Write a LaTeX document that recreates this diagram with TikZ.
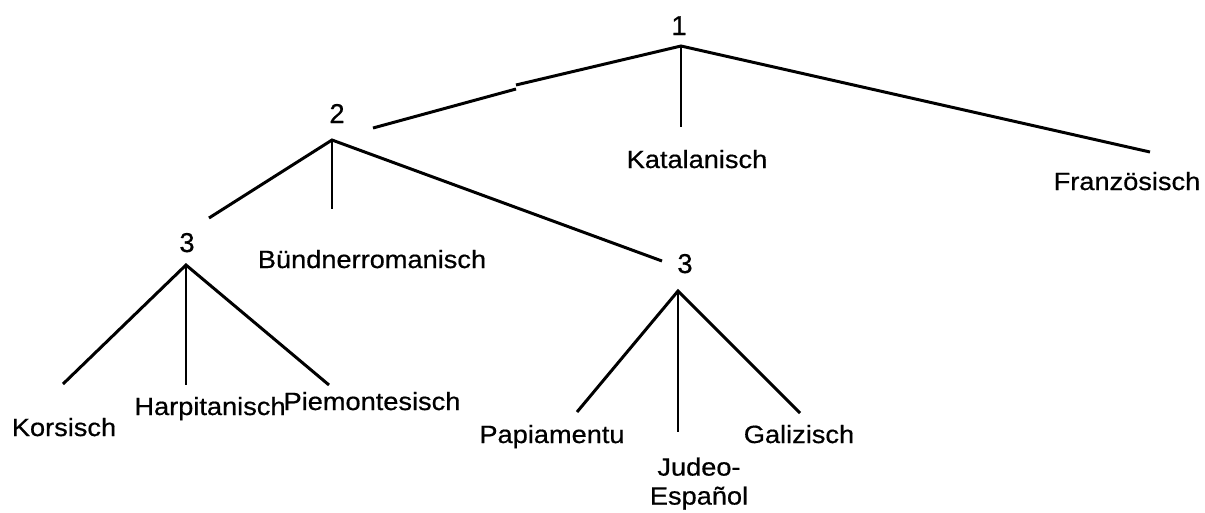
\documentclass[tikz,border=0pt]{standalone}
\usepackage{fontspec}
\setmainfont[FakeStretch=1.09,FakeBold=0.6]{Liberation Sans}
\newfontfamily\numfont[FakeBold=0.6]{Liberation Sans}
\tikzstyle{lang}=[font=\fontsize{14.2}{16.5}\selectfont,inner sep=0pt,align=center,anchor=base]
\tikzstyle{level}=[font=\numfont\fontsize{15.5}{17}\selectfont,inner sep=0pt,anchor=base]

\begin{document}
\begin{tikzpicture}[x=0.02cm,y=-0.02cm,line width=1.7pt]
    \useasboundingbox (0,0) rectangle (1205,512);
    % level numbers and branching points
    \node[level] (L1) at (679,35) {1};
    \node[level] (L2) at (337,123) {2};
    \node[level] (L3a) at (187,252) {3};
    \node[level] (L3b) at (685,273) {3};
    \coordinate (P1) at (681,46);
    \coordinate (P2) at (332,140);
    \coordinate (P3a) at (186,265);
    \coordinate (P3b) at (678,291);
    % line ends
    \coordinate (E2) at (373,128);
    \coordinate (Ja) at (516,89);
    \coordinate (Jb) at (516,85);
    \coordinate (EK) at (681,127);
    \coordinate (EF) at (1150,152);
    \coordinate (E3a) at (209,218);
    \coordinate (EB) at (332,209);
    \coordinate (E3b) at (662,261);
    \coordinate (EKo) at (63,384);
    \coordinate (EH) at (186,385);
    \coordinate (EP) at (329,385);
    \coordinate (EPa) at (577,412);
    \coordinate (EJ) at (678,432);
    \coordinate (EG) at (800,413);
    % languages
    \node[lang] (Kat) at (697,168) {Katalanisch};
    \node[lang] (Fra) at (1127,190) {Französisch};
    \node[lang] (Bue) at (372,268) {Bündnerromanisch};
    \node[lang] (Kor) at (64,436) {Korsisch};
    \node[lang] (Har) at (210,415) {Harpitanisch};
    \node[lang] (Pie) at (372,410) {Piemontesisch};
    \node[lang] (Pap) at (552,443) {Papiamentu};
    \node[lang,anchor=north] (Jud) at (699,456) {Judeo-\\Español};
    \node[lang] (Gal) at (799,443) {Galizisch};
    % branches
    \draw (E2) -- (Ja);
    \draw (Jb) -- (P1) -- (EF);
    \draw (P1) -- (EK);
    \draw (E3a) -- (P2) -- (E3b);
    \draw (P2) -- (EB);
    \draw (EKo) -- (P3a) -- (EP);
    \draw (P3a) -- (EH);
    \draw (EPa) -- (P3b) -- (EG);
    \draw (P3b) -- (EJ);
\end{tikzpicture}
\end{document}
